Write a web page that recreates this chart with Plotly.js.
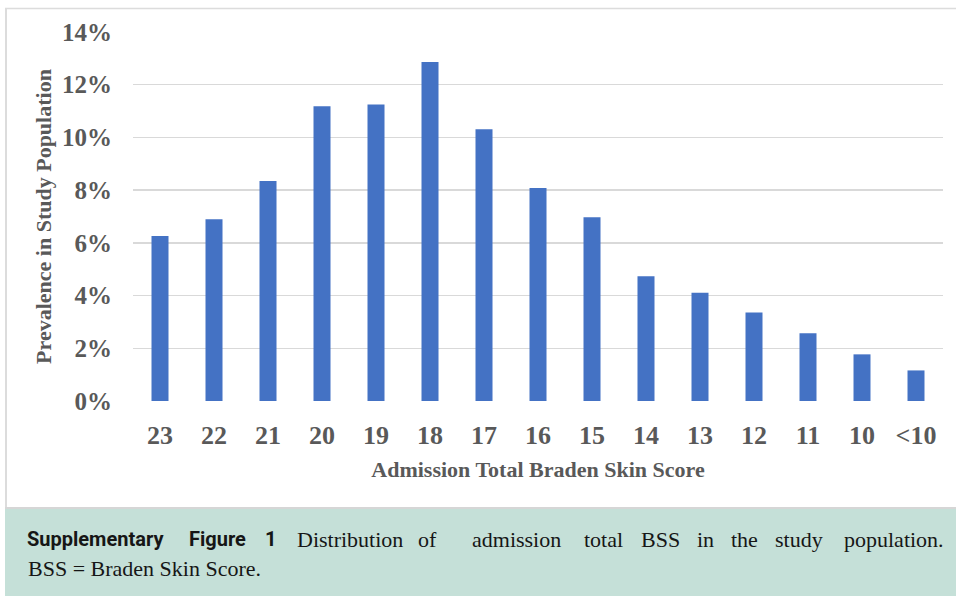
<!DOCTYPE html>
<html>
<head>
<meta charset="utf-8">
<script src="https://cdn.plot.ly/plotly-3.0.1.min.js"></script>
<style>
  html, body { margin: 0; padding: 0; background: #ffffff; }
  #chart { width: 956px; height: 596px; }
</style>
</head>
<body>
<div id="chart"></div>
<script>
// Admission Braden Skin Score categories and share of the study population (%)
const scores = ['23', '22', '21', '20', '19', '18', '17', '16', '15', '14', '13', '12', '11', '10', '<10'];
const prevalence = [6.26, 6.90, 8.35, 11.18, 11.25, 12.86, 10.31, 8.08, 6.97, 4.73, 4.11, 3.36, 2.57, 1.77, 1.16];
const yTicks = [0, 2, 4, 6, 8, 10, 12, 14];

const W = 956, H = 596;
const M = { l: 133, r: 13, t: 32, b: 195 };
const plotW = W - M.l - M.r, plotH = H - M.t - M.b;
// pixel -> paper coordinates for frame / caption decoration
const px = x => (x - M.l) / plotW;
const py = y => (H - M.b - y) / plotH;

const serif = '"Liberation Serif", "Times New Roman", serif';
const tickFont = { family: serif, size: 26, color: '#595959', weight: 'bold' };
const titleFont = { family: serif, size: 22, color: '#595959', weight: 'bold' };
const capSerif = { family: serif, size: 22, color: '#161616' };
const capBold = { family: 'Roboto, "Noto Sans", sans-serif', size: 20, color: '#161616', weight: 'bold' };

const trace = {
  type: 'bar',
  x: scores,
  y: prevalence,
  marker: { color: '#4472C4', line: { width: 0 } },
  hoverinfo: 'skip'
};

// caption words, spread (justified) across the first line; x = word centre
const line1 = [
  ['Supplementary', 95, capBold], ['Figure', 217, capBold], ['1', 270, capBold],
  ['Distribution', 350, capSerif], ['of', 427, capSerif], ['admission', 516, capSerif],
  ['total', 603, capSerif], ['BSS', 660, capSerif], ['in', 705, capSerif],
  ['the', 744, capSerif], ['study', 799, capSerif], ['population.', 894, capSerif]
];
const annotations = line1.map(([t, x, f]) => ({
  text: t, xref: 'paper', yref: 'paper', x: px(x), y: py(539),
  xanchor: 'center', yanchor: 'middle', showarrow: false, font: f
}));
annotations.push({
  text: 'BSS = Braden Skin Score.', xref: 'paper', yref: 'paper', x: px(26), y: py(568),
  xanchor: 'left', yanchor: 'middle', showarrow: false, font: capSerif
});

const shapes = [
  // caption band
  { type: 'rect', xref: 'paper', yref: 'paper', x0: px(5), x1: px(958), y0: py(509), y1: py(598),
    fillcolor: '#c5e0d8', line: { width: 0 }, layer: 'below' },
  // chart frame
  { type: 'line', xref: 'paper', yref: 'paper', x0: px(5), x1: px(958), y0: py(8.5), y1: py(8.5),
    line: { color: '#dcdcdc', width: 1.5 } },
  { type: 'line', xref: 'paper', yref: 'paper', x0: px(6), x1: px(6), y0: py(8), y1: py(508),
    line: { color: '#dcdcdc', width: 2 } },
  { type: 'line', xref: 'paper', yref: 'paper', x0: px(5), x1: px(958), y0: py(508), y1: py(508),
    line: { color: '#d6d6d6', width: 2 } }
];

const layout = {
  width: W, height: H,
  margin: M,
  paper_bgcolor: '#ffffff',
  plot_bgcolor: '#ffffff',
  showlegend: false,
  bargap: 0.685,
  xaxis: {
    type: 'category',
    showgrid: false, zeroline: false, showline: false,
    ticks: 'outside', ticklen: 11, tickcolor: 'rgba(0,0,0,0)',
    tickfont: tickFont,
    title: { text: 'Admission Total Braden Skin Score', font: titleFont, standoff: 12 }
  },
  yaxis: {
    range: [0, 14],
    tickvals: yTicks,
    ticktext: yTicks.map(v => v + '%'),
    showgrid: true, gridcolor: '#d9d9d9', gridwidth: 1.5,
    zeroline: false, showline: false,
    ticks: 'outside', ticklen: 15, tickcolor: 'rgba(0,0,0,0)',
    tickfont: Object.assign({}, tickFont, { size: 25 }),
    title: { text: 'Prevalence in Study Population', font: titleFont, standoff: 4 }
  },
  shapes: shapes,
  annotations: annotations
};

Plotly.newPlot('chart', [trace], layout, { staticPlot: true, displayModeBar: false });
</script>
</body>
</html>
